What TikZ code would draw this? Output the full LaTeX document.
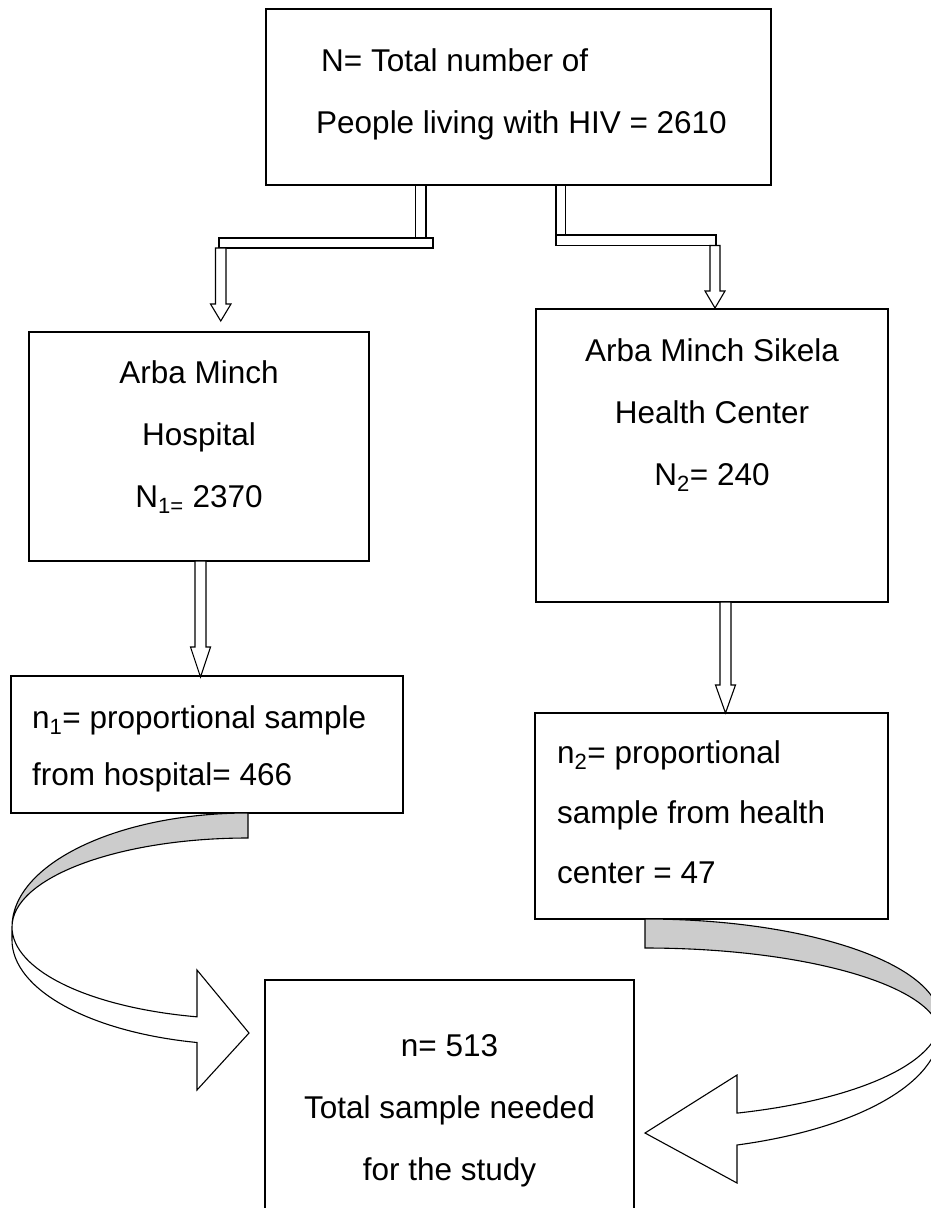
\documentclass[tikz,border=0pt]{standalone}
\usepackage{fontspec}
\setmainfont{Liberation Sans}

\begin{document}
\begin{tikzpicture}[x=1pt, y=1pt,
    box/.style={draw, line width=1.1pt, inner sep=0pt},
    txt/.style={inner sep=0pt, font=\fontsize{31.5}{38}\selectfont},
    blk/.style={draw, line width=1.1pt, fill=white},
    band/.style={draw, line width=1.1pt, fill=black!20}]
    \useasboundingbox (0,0) rectangle (931,-1208);
    \clip (0,0) rectangle (931,-1208);

    % boxes
    \node[box, minimum width=505, minimum height=176] (total) at (518.5,-97) {};
    \node[box, minimum width=340, minimum height=229] (hosp) at (199,-446.5) {};
    \node[box, minimum width=352, minimum height=293] (sikela) at (712,-455.5) {};
    \node[box, minimum width=392, minimum height=137] (samp1) at (207,-744.5) {};
    \node[box, minimum width=353, minimum height=206] (samp2) at (711.5,-816) {};
    \node[box, minimum width=369, minimum height=230] (needed) at (449.5,-1095) {};

    % texts
    \node[txt, anchor=base west] (total1) at (321,-71) {N= Total number of};
    \node[txt, anchor=base west] (total2) at (316,-133) {People living with HIV = 2610};

    \node[txt, anchor=base] (hosp1) at (hosp.center |- 0,-383) {Arba Minch};
    \node[txt, anchor=base] (hosp2) at (hosp.center |- 0,-445) {Hospital};
    \node[txt, anchor=base] (hosp3) at (hosp.center |- 0,-507) {N\textsubscript{1=} 2370};

    \node[txt, anchor=base] (sikela1) at (sikela.center |- 0,-361) {Arba Minch Sikela};
    \node[txt, anchor=base] (sikela2) at (sikela.center |- 0,-423) {Health Center};
    \node[txt, anchor=base] (sikela3) at (sikela.center |- 0,-485) {N\textsubscript{2}= 240};

    \node[txt, anchor=base west] (samp11) at (32,-728) {n\textsubscript{1}= proportional sample};
    \node[txt, anchor=base west] (samp12) at (32,-785) {from hospital= 466};

    \node[txt, anchor=base west] (samp21) at (557,-763) {n\textsubscript{2}= proportional};
    \node[txt, anchor=base west] (samp22) at (557,-823) {sample from health};
    \node[txt, anchor=base west] (samp23) at (557,-883) {center = 47};

    \node[txt, anchor=base] (needed1) at (needed.center |- 0,-1056) {n= 513};
    \node[txt, anchor=base] (needed2) at (needed.center |- 0,-1118) {Total sample needed};
    \node[txt, anchor=base] (needed3) at (needed.center |- 0,-1180) {for the study};

    % split from the top box
    \draw[blk] (415.5,-185) rectangle (426,-238);
    \draw[blk] (219,-238) rectangle (433,-248);
    \draw[blk] (215.5,-248) -- (215.5,-304) -- (210.5,-304) -- (220.75,-321)
        -- (231,-304) -- (226,-304) -- (226,-248) -- cycle;

    \draw[blk] (556,-185) rectangle (565.5,-235);
    \draw[blk] (556,-235) rectangle (716,-245.5);
    \draw[blk] (710,-245.5) -- (710,-291) -- (705,-291) -- (715,-308)
        -- (725,-291) -- (720,-291) -- (720,-245.5) -- cycle;

    % down to the samples
    \draw[blk] (195,-561) -- (195,-647) -- (190.5,-647) -- (200.5,-677)
        -- (210.5,-647) -- (206,-647) -- (206,-561) -- cycle;
    \draw[blk] (720,-602) -- (720,-685) -- (715.5,-685) -- (725.5,-713)
        -- (735.5,-685) -- (731,-685) -- (731,-602) -- cycle;

    % curved arrow from the hospital sample
    \draw[band] (248,-813) arc[start angle=90, end angle=180, x radius=236, y radius=114]
        arc[start angle=180, end angle=90, x radius=236, y radius=89] -- cycle;
    \draw[blk] (12,-927) arc[start angle=180, end angle=257.52, x radius=236, y radius=92]
        -- (197,-970) -- (249,-1033) -- (197,-1090) -- (197,-1042.5)
        arc[start angle=257.52, end angle=180, x radius=236, y radius=105] -- cycle;

    % curved arrow from the health center sample
    \draw[band] (645,-919) arc[start angle=90, end angle=0, x radius=295, y radius=101]
        -- (940,-1035) arc[start angle=0, end angle=90, x radius=295, y radius=87] -- cycle;
    \draw[blk] (940,-1020) arc[start angle=0, end angle=-71.82, x radius=295, y radius=98]
        -- (737,-1075) -- (645,-1133) -- (737,-1183) -- (737,-1145)
        arc[start angle=-71.82, end angle=0, x radius=295, y radius=121] -- cycle;
\end{tikzpicture}
\end{document}
